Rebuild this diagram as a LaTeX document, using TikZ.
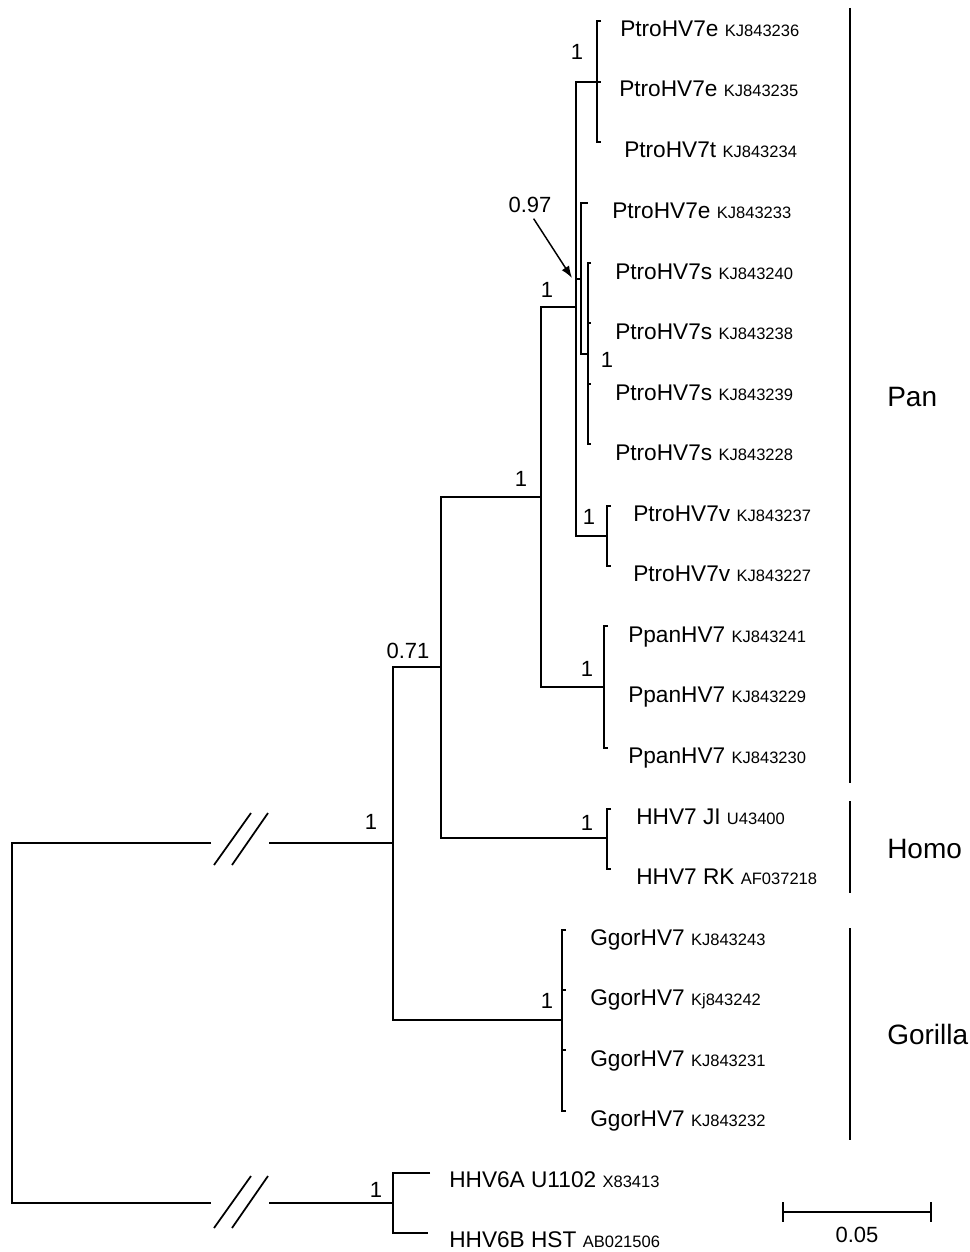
\documentclass[tikz,border=0pt]{standalone}
\usepackage{fontspec}
\setmainfont{Liberation Sans}
\usetikzlibrary{arrows.meta}

\newcommand{\acc}[1]{{\fontsize{12.4}{14}\selectfont #1}}

\begin{document}
\begin{tikzpicture}[x = 0.75pt, y = -0.75pt,
		branch/.style = {black, line width = 1.3pt},
		leaf/.style = {anchor = base west, inner sep = 0pt, font = \fontsize{17}{20}\selectfont},
		support/.style = {inner sep = 0pt, font = \fontsize{16.5}{19}\selectfont},
		clade/.style = {anchor = west, inner sep = 0pt, font = \fontsize{21}{25}\selectfont},
		pointer/.style = {black, line width = 1.1pt, -{Latex[length = 9pt, width = 6.5pt]}}]
					\useasboundingbox (0, 0) rectangle (970, 1252);
					% inner nodes of the tree
					\coordinate (root) at (12, 1023);
					\coordinate (cutT) at (211, 843);
					\coordinate (cutB) at (211, 1203);
					\coordinate (resT) at (269, 843);
					\coordinate (resB) at (269, 1203);
					\coordinate (n3) at (393, 843);
					\coordinate (n071) at (441, 667);
					\coordinate (npan) at (541, 497);
					\coordinate (ntro) at (576, 307);
					\coordinate (n097) at (581, 279);
					\coordinate (ns) at (588, 354);
					\coordinate (tip233) at (588, 203);
					\coordinate (ne) at (597, 82);
					\coordinate (nv) at (607, 536);
					\coordinate (nppan) at (604, 687);
					\coordinate (nhomo) at (607, 838);
					\coordinate (ngor) at (562, 1020);
					\coordinate (nhhv6) at (393, 1203);
					\coordinate (arr) at (572, 278);
					% branches
					\draw [branch] (cutT) -| (root) |- (cutB);
					\draw [branch] (resT) -- (n3);
					\draw [branch] (resB) -- (nhhv6);
					\draw [branch] (n3) |- (n071);
					\draw [branch] (n3) |- (ngor);
					\draw [branch] (n071) |- (npan);
					\draw [branch] (n071) |- (nhomo);
					\draw [branch] (npan) |- (ntro);
					\draw [branch] (npan) |- (nppan);
					\draw [branch] (ntro) |- (ne);
					\draw [branch] (ntro) |- (n097);
					\draw [branch] (ntro) |- (nv);
					\draw [branch] (n097) |- (ns);
					\draw [branch] (n097) |- (tip233);
					% breaks
					\draw [branch] (214, 865) -- (251, 813);
					\draw [branch] (232, 865) -- (268, 813);
					\draw [branch] (214, 1228) -- (251, 1176);
					\draw [branch] (232, 1228) -- (268, 1176);
					% tip brackets
					\draw [branch] (601, 21) -| (ne) |- (601, 142);
					\draw [branch] (ne) -- (601, 82);
					\draw [branch] (591, 263) -| (ns) |- (591, 444);
					\draw [branch] (588, 323) -- (591, 323);
					\draw [branch] (588, 384) -- (591, 384);
					\draw [branch] (611, 506) -| (nv) |- (611, 566);
					\draw [branch] (608, 626) -| (nppan) |- (608, 748);
					\draw [branch] (611, 809) -| (nhomo) |- (611, 869);
					\draw [branch] (566, 930) -| (ngor) |- (566, 1111);
					\draw [branch] (562, 990) -- (566, 990);
					\draw [branch] (562, 1050) -- (566, 1050);
					\draw [branch] (430, 1173) -| (nhhv6) |- (428, 1233);
					% leaf labels
					\node (l236) at (620, 37) [leaf] {PtroHV7e \acc{KJ843236}};
					\node (l235) at (619, 97) [leaf] {PtroHV7e \acc{KJ843235}};
					\node (l234) at (624, 158) [leaf] {PtroHV7t \acc{KJ843234}};
					\node (l233) at (612, 218) [leaf] {PtroHV7e \acc{KJ843233}};
					\node (l240) at (615, 279) [leaf] {PtroHV7s \acc{KJ843240}};
					\node (l238) at (615, 339) [leaf] {PtroHV7s \acc{KJ843238}};
					\node (l239) at (615, 400) [leaf] {PtroHV7s \acc{KJ843239}};
					\node (l228) at (615, 460) [leaf] {PtroHV7s \acc{KJ843228}};
					\node (l237) at (633, 521) [leaf] {PtroHV7v \acc{KJ843237}};
					\node (l227) at (633, 581) [leaf] {PtroHV7v \acc{KJ843227}};
					\node (l241) at (628, 642) [leaf] {PpanHV7 \acc{KJ843241}};
					\node (l229) at (628, 702) [leaf] {PpanHV7 \acc{KJ843229}};
					\node (l230) at (628, 763) [leaf] {PpanHV7 \acc{KJ843230}};
					\node (lji) at (636, 824) [leaf] {HHV7 JI \acc{U43400}};
					\node (lrk) at (636, 884) [leaf] {HHV7 RK \acc{AF037218}};
					\node (l243) at (590, 945) [leaf] {GgorHV7 \acc{KJ843243}};
					\node (l242) at (590, 1005) [leaf] {GgorHV7 \acc{Kj843242}};
					\node (l231) at (590, 1066) [leaf] {GgorHV7 \acc{KJ843231}};
					\node (l232) at (590, 1126) [leaf] {GgorHV7 \acc{KJ843232}};
					\node (l6a) at (449, 1187) [leaf] {HHV6A U1102 \acc{X83413}};
					\node (l6b) at (449, 1247) [leaf] {HHV6B HST \acc{AB021506}};
					% support values
					\node (se) at (577, 52) [support] {1};
					\node (l097) at (530, 205) [support] {0.97};
					\node (stro) at (547, 290) [support] {1};
					\node (ss) at (607, 360) [support] {1};
					\node (span) at (521, 479) [support] {1};
					\node (sv) at (589, 517) [support] {1};
					\node (s071) at (408, 651) [support] {0.71};
					\node (sppan) at (587, 669) [support] {1};
					\node (shomo) at (587, 823) [support] {1};
					\node (s3) at (371, 822) [support] {1};
					\node (sgor) at (547, 1001) [support] {1};
					\node (shhv6) at (376, 1190) [support] {1};
					\draw [pointer, shorten <= 5pt] (l097.south) -- (arr);
					% host bars
					\draw [branch] (850, 8) -- (850, 783);
					\draw [branch] (850, 801) -- (850, 893);
					\draw [branch] (850, 928) -- (850, 1140);
					\node (pan) at (887, 397) [clade] {Pan};
					\node (homo) at (887, 849) [clade] {Homo};
					\node (gorilla) at (887, 1034) [clade] {Gorilla};
					% scale bar
					\draw [branch] (783, 1212) -- (931, 1212);
					\draw [branch] (783, 1202) -- (783, 1222);
					\draw [branch] (931, 1202) -- (931, 1222);
					\node (scale) at (857, 1235) [support] {0.05};
				\end{tikzpicture}
\end{document}
